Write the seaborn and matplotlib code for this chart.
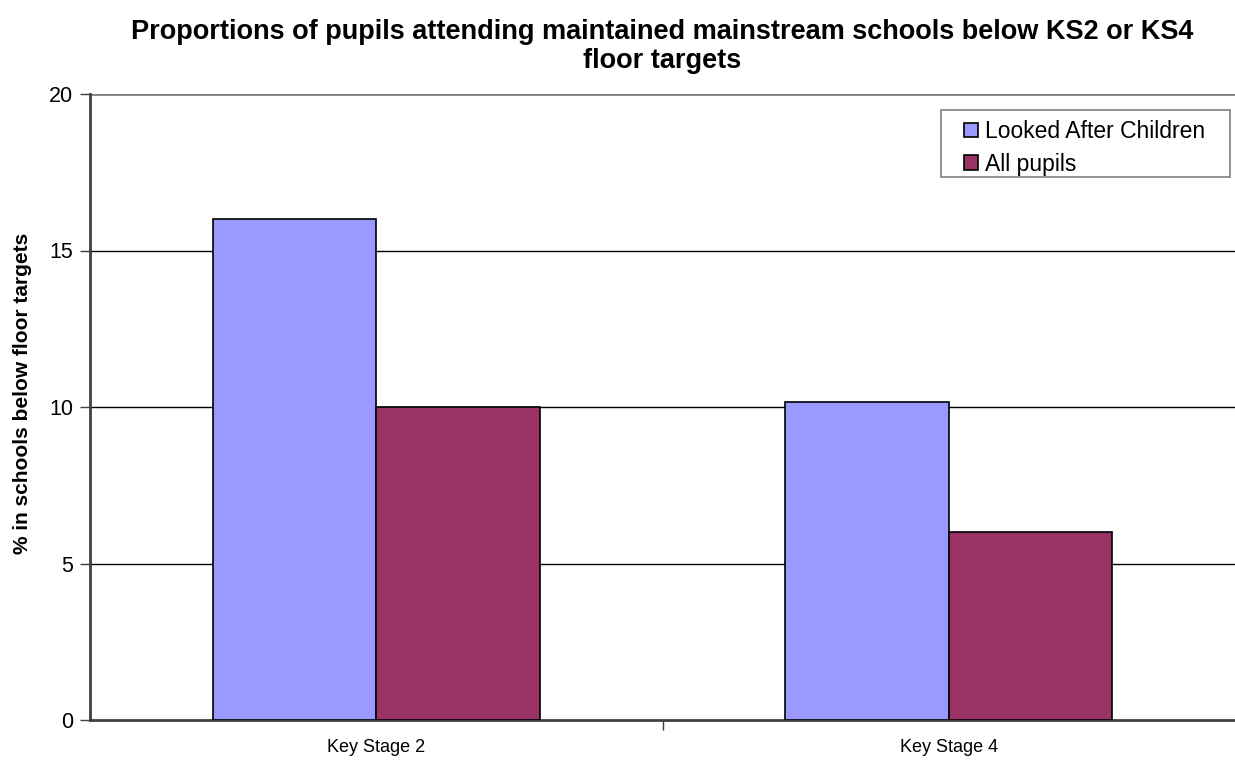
import matplotlib
matplotlib.use("Agg")
import matplotlib.pyplot as plt
import seaborn as sns
import pandas as pd
from matplotlib.patches import Rectangle
from matplotlib.ticker import FixedLocator, NullFormatter

stages = ["Key Stage 2", "Key Stage 4"]
series_names = ["Looked After Children", "All pupils"]
lac_values = [16.0, 10.15]
all_values = [10.0, 6.0]
y_ticks = [0, 5, 10, 15, 20]
palette = {"Looked After Children": "#9999FF", "All pupils": "#993366"}

df = pd.DataFrame({
    "stage": stages * 2,
    "group": [series_names[0]] * 2 + [series_names[1]] * 2,
    "value": lac_values + all_values,
})

sns.set_style("white")
plt.rcParams["font.family"] = ["Liberation Sans", "DejaVu Sans"]
plt.rcParams["text.color"] = "black"
plt.rcParams["xtick.color"] = "black"
plt.rcParams["ytick.color"] = "black"
plt.rcParams["axes.labelcolor"] = "black"

W, H = 1235, 765
fig = plt.figure(figsize=(W / 100, H / 100), dpi=100)
ax = fig.add_axes([90 / W, 45 / H, 1145 / W, 626 / H])

sns.barplot(data=df, x="stage", y="value", hue="group", hue_order=series_names,
            palette=palette, width=0.572, edgecolor="black", linewidth=1.2,
            saturation=1, ax=ax, zorder=3)

ax.set_xlim(-0.5, 1.5)
ax.set_ylim(0, 20)
ax.set_yticks(y_ticks)
ax.tick_params(axis="y", labelsize=15.5, length=7, width=1, color="#404040",
               labelcolor="black", direction="out", left=True, pad=5)
ax.tick_params(axis="x", which="major", length=0, labelsize=13, pad=14,
               labelcolor="black")
ax.xaxis.set_minor_locator(FixedLocator([0.5]))
ax.xaxis.set_minor_formatter(NullFormatter())
ax.tick_params(axis="x", which="minor", length=7, width=1, color="#404040",
               direction="out", bottom=True)

for y in y_ticks[1:-1]:
    ax.axhline(y, color="black", linewidth=1, zorder=1)
ax.axhline(20, color="#808080", linewidth=2, zorder=1)

for side in ["top", "right"]:
    ax.spines[side].set_visible(False)
for side in ["left", "bottom"]:
    ax.spines[side].set_color("#404040")
    ax.spines[side].set_linewidth(2)

ax.set_xlabel("")
ax.set_ylabel("% in schools below floor targets", fontsize=15,
              fontweight="bold", color="black")
ax.yaxis.set_label_coords(-58 / 1145, 0.522)

ax.set_title("Proportions of pupils attending maintained mainstream schools below KS2 or KS4\nfloor targets",
             fontsize=19.5, fontweight="bold", pad=19, linespacing=1.12,
             color="black")

# legend entries without their own frame, boxed by a grey rectangle
box = Rectangle((941 / W, 1 - 177 / H), 289 / W, 67 / H,
                transform=fig.transFigure, facecolor="white",
                edgecolor="#808080", linewidth=1.2, zorder=4, clip_on=False)
ax.add_patch(box)
leg = ax.legend(loc="upper left", bbox_to_anchor=(964 / W, 1 - 120 / H),
                bbox_transform=fig.transFigure, fontsize=16.5, frameon=False,
                handlelength=0.62, handleheight=0.62, handletextpad=0.3,
                borderpad=0, labelspacing=0.42, borderaxespad=0)
leg.set_zorder(6)
for h in leg.legend_handles:
    h.set_edgecolor("black")
    h.set_linewidth(1.2)

fig.savefig("out.png", dpi=100)
